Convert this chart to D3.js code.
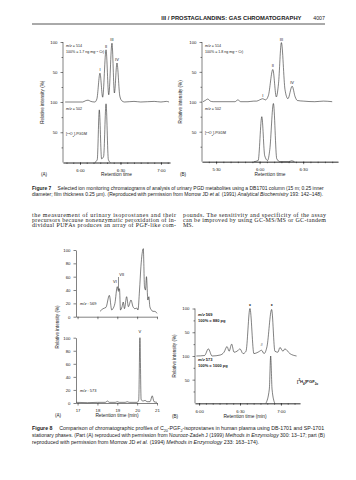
<!DOCTYPE html>
<html><head><meta charset="utf-8">
<script src="https://cdn.jsdelivr.net/npm/d3@7"></script>
<style>body{margin:0;background:#fff}svg{display:block}</style>
</head><body>
<script>
// ---------------- DATA ----------------
// Figure 7 (A): retention time in seconds, relative intensity %
const f7aUpper = [[349,0],[362,0],[364,2],[366,3],[368,1],[371,0],[372.5,5],[374.8,48],[376.8,8],[379.3,87],[381.3,12],[383.7,98],[385.5,15],[387.4,65],[389.5,10],[391,2],[393,0],[400,1],[405,0],[415,1],[420,0],[424,1],[426,0]];
const f7aLower = [[371,0],[372.8,5],[374.3,87],[376,6],[377.5,10],[379.3,97],[381,5],[382.5,0]];
const f7aUpperPeaks = [["I",374.8,48],["II",379.3,87],["III",383.7,98],["IV",387.4,65]];
// Figure 7 (B)
const f7bUpper = [[321,0],[322.5,2],[324.3,4.5],[326,1],[328,0],[343,0],[345,3],[347,0],[352,0],[356,1],[358,1],[360,3],[362.2,5],[364,3],[366,10],[369.1,54],[371.5,8],[373,30],[375,99],[377.5,20],[379.5,5],[382.4,26],[384.5,8],[386,2],[390,1],[398,0],[404,1],[410,0]];
const f7bLower = [[356,0],[359,2],[361.5,75],[363.5,10],[365.5,2],[367,20],[369.5,97],[371.8,5],[374,0],[380,0],[382,1.5],[384,0]];
const f7bUpperPeaks = [["I",362.2,5],["II",369.1,54],["III",375,99],["IV",382.4,26]];
const f7Ticks = [330,360,390,420];
// Figure 8 (A): retention time in minutes
const f8aUpper = [[18.13,8],[18.28,12],[18.43,14],[18.6,32],[18.72,10],[18.78,12],[18.88,20],[19.0,45],[19.06,38],[19.11,42],[19.16,10],[19.24,15],[19.3,22],[19.36,12],[19.47,30],[19.56,15],[19.69,25],[19.79,15],[19.89,12],[19.98,13],[20.04,10],[20.12,40],[20.19,75],[20.31,102],[20.37,45],[20.42,40],[20.47,60],[20.54,25],[20.59,30],[20.64,15],[20.72,10],[20.79,8],[20.89,8],[21.0,5]];
const f8aLower = [[16.95,1],[17.5,0.5],[18.0,1],[18.4,1],[18.5,3],[18.6,1],[18.9,1],[19.0,2],[19.1,1],[19.4,1],[19.5,2],[19.6,1],[20.0,1],[20.08,5],[20.14,100],[20.2,5],[20.3,3],[20.4,4],[20.5,2],[20.65,2],[20.76,11],[20.85,2],[21.0,1]];
const f8aTicks = [17,18,19,20,21];
const f8aYTicks = [0,20,40,60,80,100];
// Figure 8 (B): retention time in seconds
const f8bUpper = [[358,0],[364,1],[366.8,15],[369.5,0],[375.4,2],[378.3,8],[380.5,20],[382,10],[383.9,25],[385.6,8],[387.8,10],[390,15],[392.2,5],[394.4,10],[397.3,100],[400.2,5],[403.2,8],[405.9,12],[407.6,5],[409.8,20],[413.2,98],[415.6,10],[417.8,8],[419.3,18],[421.5,10],[422.9,15],[426.6,5],[431.5,0]];
const f8bLower = [[409,0],[411.5,30],[412.5,100],[413.5,30],[415.5,0]];
const f8bTicks = [360,390,420];

// ---------------- DRAW ----------------
const W=356,H=480;
const svg=d3.select("body").append("svg").attr("width",W).attr("height",H);
svg.append("rect").attr("width",W).attr("height",H).attr("fill","#fff");
const SANS="Liberation Sans, Arial, sans-serif", SERIF="Liberation Serif, Times New Roman, serif";
const INK="#1a1a1a";

function txt(x,y,segs,o={}){
  const t=svg.append("text").attr("x",x).attr("y",y).attr("font-family",o.ff||SANS)
    .attr("font-size",o.fs||4.6).attr("fill",o.fill||INK).attr("text-anchor",o.anchor||"start");
  if(o.fw) t.attr("font-weight",o.fw);
  if(o.len){t.attr("textLength",o.len).attr("lengthAdjust","spacing");}
  if(o.rot) t.attr("transform",`rotate(${o.rot},${x},${y})`);
  if(typeof segs==="string") segs=[[segs,{}]];
  segs.forEach(([s,st])=>{const sp=t.append("tspan").text(s);
    if(st.i) sp.attr("font-style","italic"); if(st.b) sp.attr("font-weight","bold");
    if(st.sup) sp.attr("baseline-shift","super").attr("font-size","70%");
    if(st.sub) sp.attr("baseline-shift","sub").attr("font-size","70%");});
  if(o.fit){ // scale font size so the line spans the given width
    const w=t.node().getBBox().width;
    if(w>0) t.attr("font-size",(o.fs||4.6)*o.fit/w);
  }
  return t;
}
const mmss=s=>`${Math.floor(s/60)}:${String(s%60).padStart(2,"0")}`;

// header
txt(301.5,19.5,"III / PROSTAGLANDINS: GAS CHROMATOGRAPHY",{fs:5.3,anchor:"end",fw:"bold",fit:141});
txt(325,19.5,"4007",{fs:5.3,anchor:"end"});
svg.append("line").attr("x1",32).attr("x2",325).attr("y1",24).attr("y2",24).attr("stroke","#555").attr("stroke-width",1);

function line(g,data,x,y,w){
  g.append("path").datum(data).attr("fill","none").attr("stroke",INK).attr("stroke-width",w||0.55)
   .attr("stroke-linejoin","round").attr("d",d3.line().x(d=>x(d[0])).y(d=>y(d[1])).curve(d3.curveMonotoneX));
}
function styleAxis(g){g.selectAll("path,line").attr("stroke",INK).attr("stroke-width",0.55);
  g.selectAll("text").attr("font-family",SANS).attr("font-size",4.3).attr("fill",INK);}

// ----- Figure 7 panels -----
function fig7(p){
  const g=svg.append("g");
  const x=d3.scaleLinear().domain(p.dom).range(p.xr);
  const yU=d3.scaleLinear().domain([0,100]).range([p.mid,p.top]);
  const yL=d3.scaleLinear().domain([0,100]).range([p.bot,p.mid]);
  const ay1=g.append("g").attr("transform",`translate(${p.xr[0]},0)`).call(d3.axisLeft(yU).tickValues([50,100]).tickSize(2.5).tickFormat(d3.format("d")));
  const ay1m=g.append("g").attr("transform",`translate(${p.xr[0]},0)`).call(d3.axisLeft(yU).tickValues([25,75]).tickSize(1.5).tickFormat(""));
  const ay2=g.append("g").attr("transform",`translate(${p.xr[0]},0)`).call(d3.axisLeft(yL).tickValues([50,100]).tickSize(2.5).tickFormat(d3.format("d")));
  const ay2m=g.append("g").attr("transform",`translate(${p.xr[0]},0)`).call(d3.axisLeft(yL).tickValues([25,75]).tickSize(1.5).tickFormat(""));
  [ay1,ay1m,ay2,ay2m].forEach(a=>{styleAxis(a);a.select(".domain").remove();});
  g.append("line").attr("x1",p.xr[0]).attr("x2",p.xr[0]).attr("y1",p.top).attr("y2",p.bot).attr("stroke",INK).attr("stroke-width",0.55);
  const ax=g.append("g").attr("transform",`translate(0,${p.bot})`).call(d3.axisBottom(x).tickValues(f7Ticks.filter(t=>t>=p.dom[0]&&t<=p.dom[1])).tickSize(2.5).tickSizeOuter(0).tickFormat(mmss));
  const minor=d3.range(Math.ceil(p.dom[0]/5)*5,p.dom[1],5);
  const axm=g.append("g").attr("transform",`translate(0,${p.bot})`).call(d3.axisBottom(x).tickValues(minor).tickSize(1.5).tickSizeOuter(0).tickFormat(""));
  styleAxis(ax);styleAxis(axm);ax.selectAll("text").attr("dy","0.9em");
  line(g,p.up,x,yU); line(g,p.lo,x,yL);
  p.peaks.forEach(([n,t,v])=>txt(x(t),yU(v)-2,n,{fs:4,anchor:"middle"}));
  txt(p.xr[0]+3,p.top+5,[["m/z",{i:true}],[" = 514",{}]],{fs:3.6});
  txt(p.xr[0]+3,p.top+10.5,[[p.note,{}],["\u22121",{sup:true}],[" Cr)",{}]],{fs:3.6});
  txt(p.xr[0]+3,p.mid+8,[["m/z",{i:true}],[" = 502",{}]],{fs:3.6});
  txt(p.xr[0]+3,p.mid+32.5,[["[",{}],["18",{sup:true}],["O",{}],["2",{sub:true}],["]-PGDM",{}]],{fs:3.6});
  txt(p.ylab,(p.top+p.bot)/2,"Relative intensity (%)",{fs:4.6,anchor:"middle",rot:-90});
  txt(p.letterX,176,p.letter,{fs:4.6});
  txt((p.xr[0]+p.xr[1])/2,176,"Retention time",{fs:4.8,anchor:"middle"});
}
fig7({dom:[347.4,426.7],xr:[63,170],top:42,mid:102,bot:162.5,up:f7aUpper,lo:f7aLower,peaks:f7aUpperPeaks,note:"100% = 1.7 ng mg",ylab:44,letter:"(A)",letterX:41});
fig7({dom:[320.3,414],xr:[202,338],top:42,mid:101.7,bot:161.7,up:f7bUpper,lo:f7bLower,peaks:f7bUpperPeaks,note:"100% = 1.8 ng mg",ylab:182,letter:"(B)",letterX:180});

// Figure 7 caption
const c71=txt(32,190,[["Figure 7",{b:true}],["\u2003 Selected ion monitoring chromatograms of analysis of urinary PGD metabolites using a DB1701 column (15 m; 0.25 inner",{}]],{fs:4.5,fit:293});
txt(32,195.8,[["diameter; film thickness 0.25 \u00b5m). (Reproduced with permission from Morrow JD ",{}],["et al.",{i:true}],[" (1991) ",{}],["Analytical Biochemistry",{i:true}],[" 193: 142\u2013148).",{}]],{fs:+c71.attr("font-size")});

// body text
const bodyL=["the measurement of urinary isoprostanes and their","precursors because nonenzymatic peroxidation of in-","dividual PUFAs produces an array of PGF-like com-"];
const bodyR=["pounds. The sensitivity and specificity of the assay","can be improved by using GC-MS/MS or GC-tandem","MS."];
bodyL.forEach((s,i)=>txt(32,217+i*5,s,{ff:SERIF,fs:6.0,len:144}));
bodyR.forEach((s,i)=>txt(183,217+i*5,s,{ff:SERIF,fs:6.0,len:i<2?143:null}));

// ----- Figure 8 (A) -----
{
  const g=svg.append("g");
  const x=d3.scaleLinear().domain([16.92,21]).range([76,157]);
  const yU=d3.scaleLinear().domain([0,100]).range([316.7,250]);
  const yL=d3.scaleLinear().domain([0,100]).range([403,337.7]);
  [[yU,316.7],[yL,403]].forEach(([y,b])=>{
    const ay=g.append("g").attr("transform","translate(76,0)").call(d3.axisLeft(y).tickValues(f8aYTicks).tickSize(2.5).tickSizeOuter(0));
    styleAxis(ay);
    const ax=g.append("g").attr("transform",`translate(0,${b})`).call(d3.axisBottom(x).tickValues(f8aTicks).tickSize(2.5).tickSizeOuter(0).tickFormat(b>400?d3.format("d"):""));
    styleAxis(ax); ax.selectAll("text").attr("dy","0.9em");
  });
  line(g,f8aUpper,x,yU); line(g,f8aLower,x,yL);
  txt(80,304.5,[["m/z",{i:true}],[" : 569",{}]],{fs:4});
  txt(80,391.5,[["m/z",{i:true}],[" : 573",{}]],{fs:4});
  txt(115,282.5,"VI",{fs:4,anchor:"middle"});
  txt(121.7,275.5,"VII",{fs:4,anchor:"middle"});
  g.append("line").attr("x1",x(19.06)).attr("x2",x(19.06)).attr("y1",277).attr("y2",yU(40)).attr("stroke",INK).attr("stroke-width",0.5);
  txt(x(20.14),333,"V",{fs:4,anchor:"middle"});
  txt(59,327,"Relative intensity (%)",{fs:4.6,anchor:"middle",rot:-90});
  txt(55,416.5,"(A)",{fs:4.6});
  txt(117,416.5,"Retention time (min)",{fs:4.8,anchor:"middle"});
}
// ----- Figure 8 (B) -----
{
  const g=svg.append("g");
  const x=d3.scaleLinear().domain([357,434]).range([195,300]);
  const yU=d3.scaleLinear().domain([0,100]).range([356,308.5]);
  const yL=d3.scaleLinear().domain([0,100]).range([403.3,356]);
  [yU,yL].forEach(y=>{
    const ay=g.append("g").attr("transform","translate(195,0)").call(d3.axisLeft(y).tickValues([50,100]).tickSize(2.5).tickFormat(d3.format("d")));
    const aym=g.append("g").attr("transform","translate(195,0)").call(d3.axisLeft(y).tickValues([25,75]).tickSize(1.5).tickFormat(""));
    styleAxis(ay);styleAxis(aym);ay.select(".domain").remove();aym.select(".domain").remove();
  });
  g.append("line").attr("x1",195).attr("x2",195).attr("y1",308.5).attr("y2",403.3).attr("stroke",INK).attr("stroke-width",0.55);
  const ax=g.append("g").attr("transform","translate(0,403.3)").call(d3.axisBottom(x).tickValues(f8bTicks).tickSize(2.5).tickSizeOuter(0).tickFormat(mmss));
  const axm=g.append("g").attr("transform","translate(0,403.3)").call(d3.axisBottom(x).tickValues(d3.range(360,434,5)).tickSize(1.5).tickSizeOuter(0).tickFormat(""));
  styleAxis(ax);styleAxis(axm);ax.selectAll("text").attr("dy","0.9em");
  line(g,f8bUpper,x,yU); line(g,f8bLower,x,yL);
  txt(198,315.5,[["m/z",{i:true}],[" 569",{}]],{fs:4,fw:"bold"});
  txt(198,321.5,"100% = 880 pg",{fs:4,fw:"bold"});
  txt(198,361,[["m/z",{i:true}],[" 573",{}]],{fs:4,fw:"bold"});
  txt(198,366.5,"100% = 1000 pg",{fs:4,fw:"bold"});
  txt(x(397.3),yU(100)-1,"*",{fs:5,anchor:"middle",fw:"bold"});
  txt(x(413.2),yU(98)-1,"*",{fs:5,anchor:"middle",fw:"bold"});
  txt(x(405.9),346,"#",{fs:4,anchor:"middle"});
  txt(297,383,[["[",{}],["2",{sup:true}],["H",{}],["4",{sub:true}],["]PGF",{}],["2\u03b1",{sub:true}]],{fs:4.2,fw:"bold"});
  txt(176,356,"Relative intensity (%)",{fs:4.6,anchor:"middle",rot:-90});
  txt(172,418,"(B)",{fs:4.6});
  txt(245,418,"Retention time (min)",{fs:4.8,anchor:"middle"});
}
// Figure 8 caption
const c81=txt(32,430,[["Figure 8",{b:true}],["\u2003 Comparison of chromatographic profiles of C",{}],["20",{sub:true}],["-PGF",{}],["2",{sub:true}],["-isoprostanes in human plasma using DB-1701 and SP-1701",{}]],{fs:4.5,fit:294});
txt(32,437,[["stationary phases. (Part (A) reproduced with permission from Nourooz-Zadeh J (1999) ",{}],["Methods in Enzymology",{i:true}],[" 300: 13\u201317; part (B)",{}]],{fs:4.5,fit:294});
txt(32,444,[["reproduced with permission from Morrow JD ",{}],["et al.",{i:true}],[" (1994) ",{}],["Methods in Enzymology",{i:true}],[" 233: 163\u2013174).",{}]],{fs:+c81.attr("font-size")});
</script>
</body></html>
